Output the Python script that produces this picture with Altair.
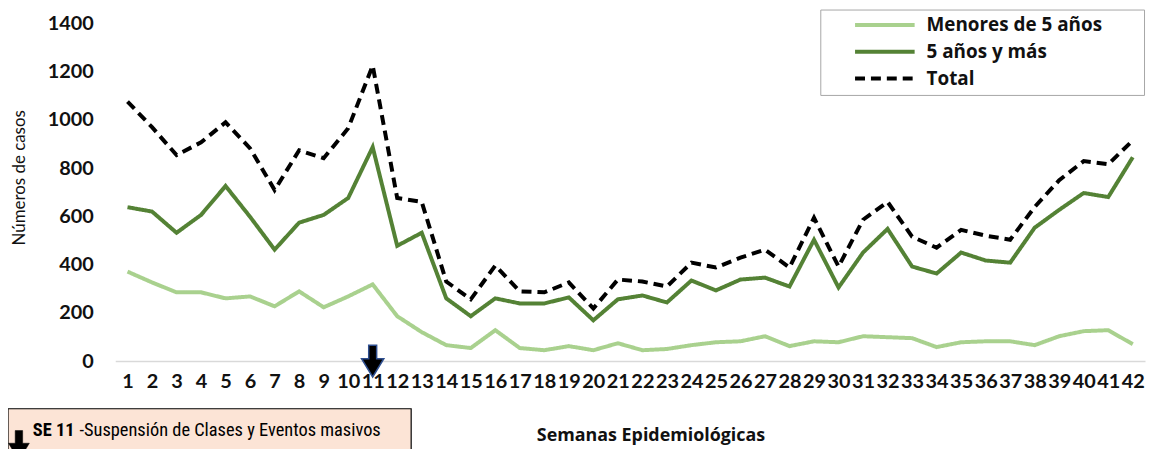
import altair as alt
import pandas as pd

semanas = list(range(1, 43))
series = ["Menores de 5 años", "5 años y más", "Total"]

menores = [371, 326, 285, 285, 260, 268, 227, 289, 223, 268, 318, 186, 120, 66, 54, 128,
           54, 45, 62, 45, 74, 45, 50, 66, 78, 82, 103, 62, 82, 78, 103, 99, 95, 58, 78,
           82, 82, 66, 103, 124, 128, 70]
mayores = [638, 620, 532, 606, 726, 598, 462, 574, 606, 676, 887, 478, 532, 260, 186, 260,
           239, 239, 264, 169, 256, 272, 243, 334, 293, 338, 346, 309, 503, 305, 450, 548,
           392, 363, 450, 417, 408, 553, 627, 697, 680, 845]
total = [1076, 970, 854, 907, 990, 882, 709, 874, 841, 965, 1225, 676, 660, 330, 256, 396,
         289, 285, 326, 218, 338, 330, 309, 408, 388, 429, 462, 388, 594, 392, 586, 660,
         516, 470, 544, 520, 503, 639, 750, 829, 816, 915]

semana_evento = [11]
nota = ["SE 11", "-Suspensión de Clases  y Eventos masivos"]

rows = []
for s, vals in zip(series, [menores, mayores, total]):
    for w, v in zip(semanas, vals):
        rows.append({"semana": w, "serie": s, "casos": v})
df = pd.DataFrame(rows)

FONT = "Lato"
FONT2 = "Open Sans"
NOTE_FONT = "'Liberation Sans Narrow', 'Arial Narrow', 'Roboto Condensed', Roboto"

x_enc = alt.X("semana:Q",
              scale=alt.Scale(domain=[0.5, 42.5], nice=False, zero=False),
              axis=alt.Axis(values=semanas, format="d", labelOverlap=False,
                            ticks=False, tickSize=0, grid=False,
                            domain=True, domainColor="#d9d9d9", domainWidth=1.5,
                            labelFont=FONT, labelFontSize=20, labelFontWeight="bold",
                            labelColor="#111", labelPadding=11,
                            title="Semanas Epidemiológicas", titleFont=FONT2,
                            titleFontSize=18, titleFontWeight="bold", titleColor="#111",
                            titleX=539, titleY=75, titleAlign="center",
                            titleBaseline="middle"))
y_enc = alt.Y("casos:Q",
              scale=alt.Scale(domain=[0, 1400], nice=False),
              axis=alt.Axis(values=[0, 200, 400, 600, 800, 1000, 1200, 1400],
                            format="d",
                            domain=False, ticks=False, grid=False,
                            labelFont=FONT, labelFontSize=20, labelFontWeight="bold",
                            labelColor="#111", labelPadding=22,
                            title="Números de casos", titleFont=FONT, titleFontSize=17,
                            titleFontWeight="normal", titleColor="#111",
                            titleX=-96, titleY=155, titleAlign="center",
                            titleBaseline="middle", titleAngle=270))

legend = alt.Legend(title="\u00a0", titleOrient="right", titlePadding=36,
                    titleFontSize=12,
                    orient="none", legendX=710, legendY=-14,
                    symbolType="stroke", symbolSize=3600, clipHeight=19,
                    symbolStrokeWidth=4, symbolOffset=27,
                    labelFont=FONT2, labelFontSize=19, labelLimit=400,
                    labelFontWeight="bold", labelColor="#111",
                    labelOffset=10, rowPadding=7, padding=6,
                    strokeColor="#a6a6a6", fillColor="white")

lines = alt.Chart(df).mark_line(strokeWidth=4, strokeCap="butt").encode(
    x=x_enc,
    y=y_enc,
    color=alt.Color("serie:N",
                    scale=alt.Scale(domain=series, range=["#a9d18e", "#548235", "#000000"]),
                    legend=legend),
    strokeDash=alt.StrokeDash("serie:N",
                              scale=alt.Scale(domain=series,
                                              range=[[1, 0], [1, 0], [10, 6]]),
                              legend=legend),
    order=alt.Order("serie:N"),
)

arrow_path = "M-0.25,-1 L0.25,-1 L0.25,-0.15 L0.7,-0.15 L0,1 L-0.7,-0.15 L-0.25,-0.15 Z"

arrow = alt.Chart(pd.DataFrame({"semana": semana_evento, "casos": [0]})).mark_point(
    shape=arrow_path, size=1024, filled=True, fill="#000000",
    stroke="#2f4f8f", strokeWidth=1.5, opacity=1
).encode(
    x=x_enc,
    y=y_enc,
)

box = alt.Chart(pd.DataFrame({"t": [0]})).mark_rect(
    fill="#fce4d6", stroke="#000000", strokeWidth=1.2
).encode(
    x=alt.value(-108), x2=alt.value(298), y=alt.value(388), y2=alt.value(440)
)

icon = alt.Chart(pd.DataFrame({"t": [0]})).mark_point(
    shape=arrow_path, size=900, filled=True, fill="#000000", stroke="#000000",
    strokeWidth=0.5, opacity=1
).encode(x=alt.value(-97), y=alt.value(425))

nota_df = pd.DataFrame({"txt": nota})
txt1 = alt.Chart(nota_df.iloc[[0]]).mark_text(
    font=NOTE_FONT, fontSize=18.5, fontWeight="bold", align="left",
    baseline="middle", color="#000"
).encode(text="txt:N", x=alt.value(-83), y=alt.value(409))
txt2 = alt.Chart(nota_df.iloc[[1]]).mark_text(
    font=NOTE_FONT, fontSize=18.5, fontWeight="normal", align="left",
    baseline="middle", color="#000"
).encode(text="txt:N", x=alt.value(-36), y=alt.value(409))

chart = alt.layer(lines, arrow, box, icon, txt1, txt2).properties(
    width=1037, height=340,
    autosize=alt.AutoSizeParams(type="none"),
    padding={"left": 108, "top": 14, "right": 2, "bottom": 87},
).configure_view(stroke=None)

chart.save("out.html", embed_options={"renderer": "svg", "actions": False})
